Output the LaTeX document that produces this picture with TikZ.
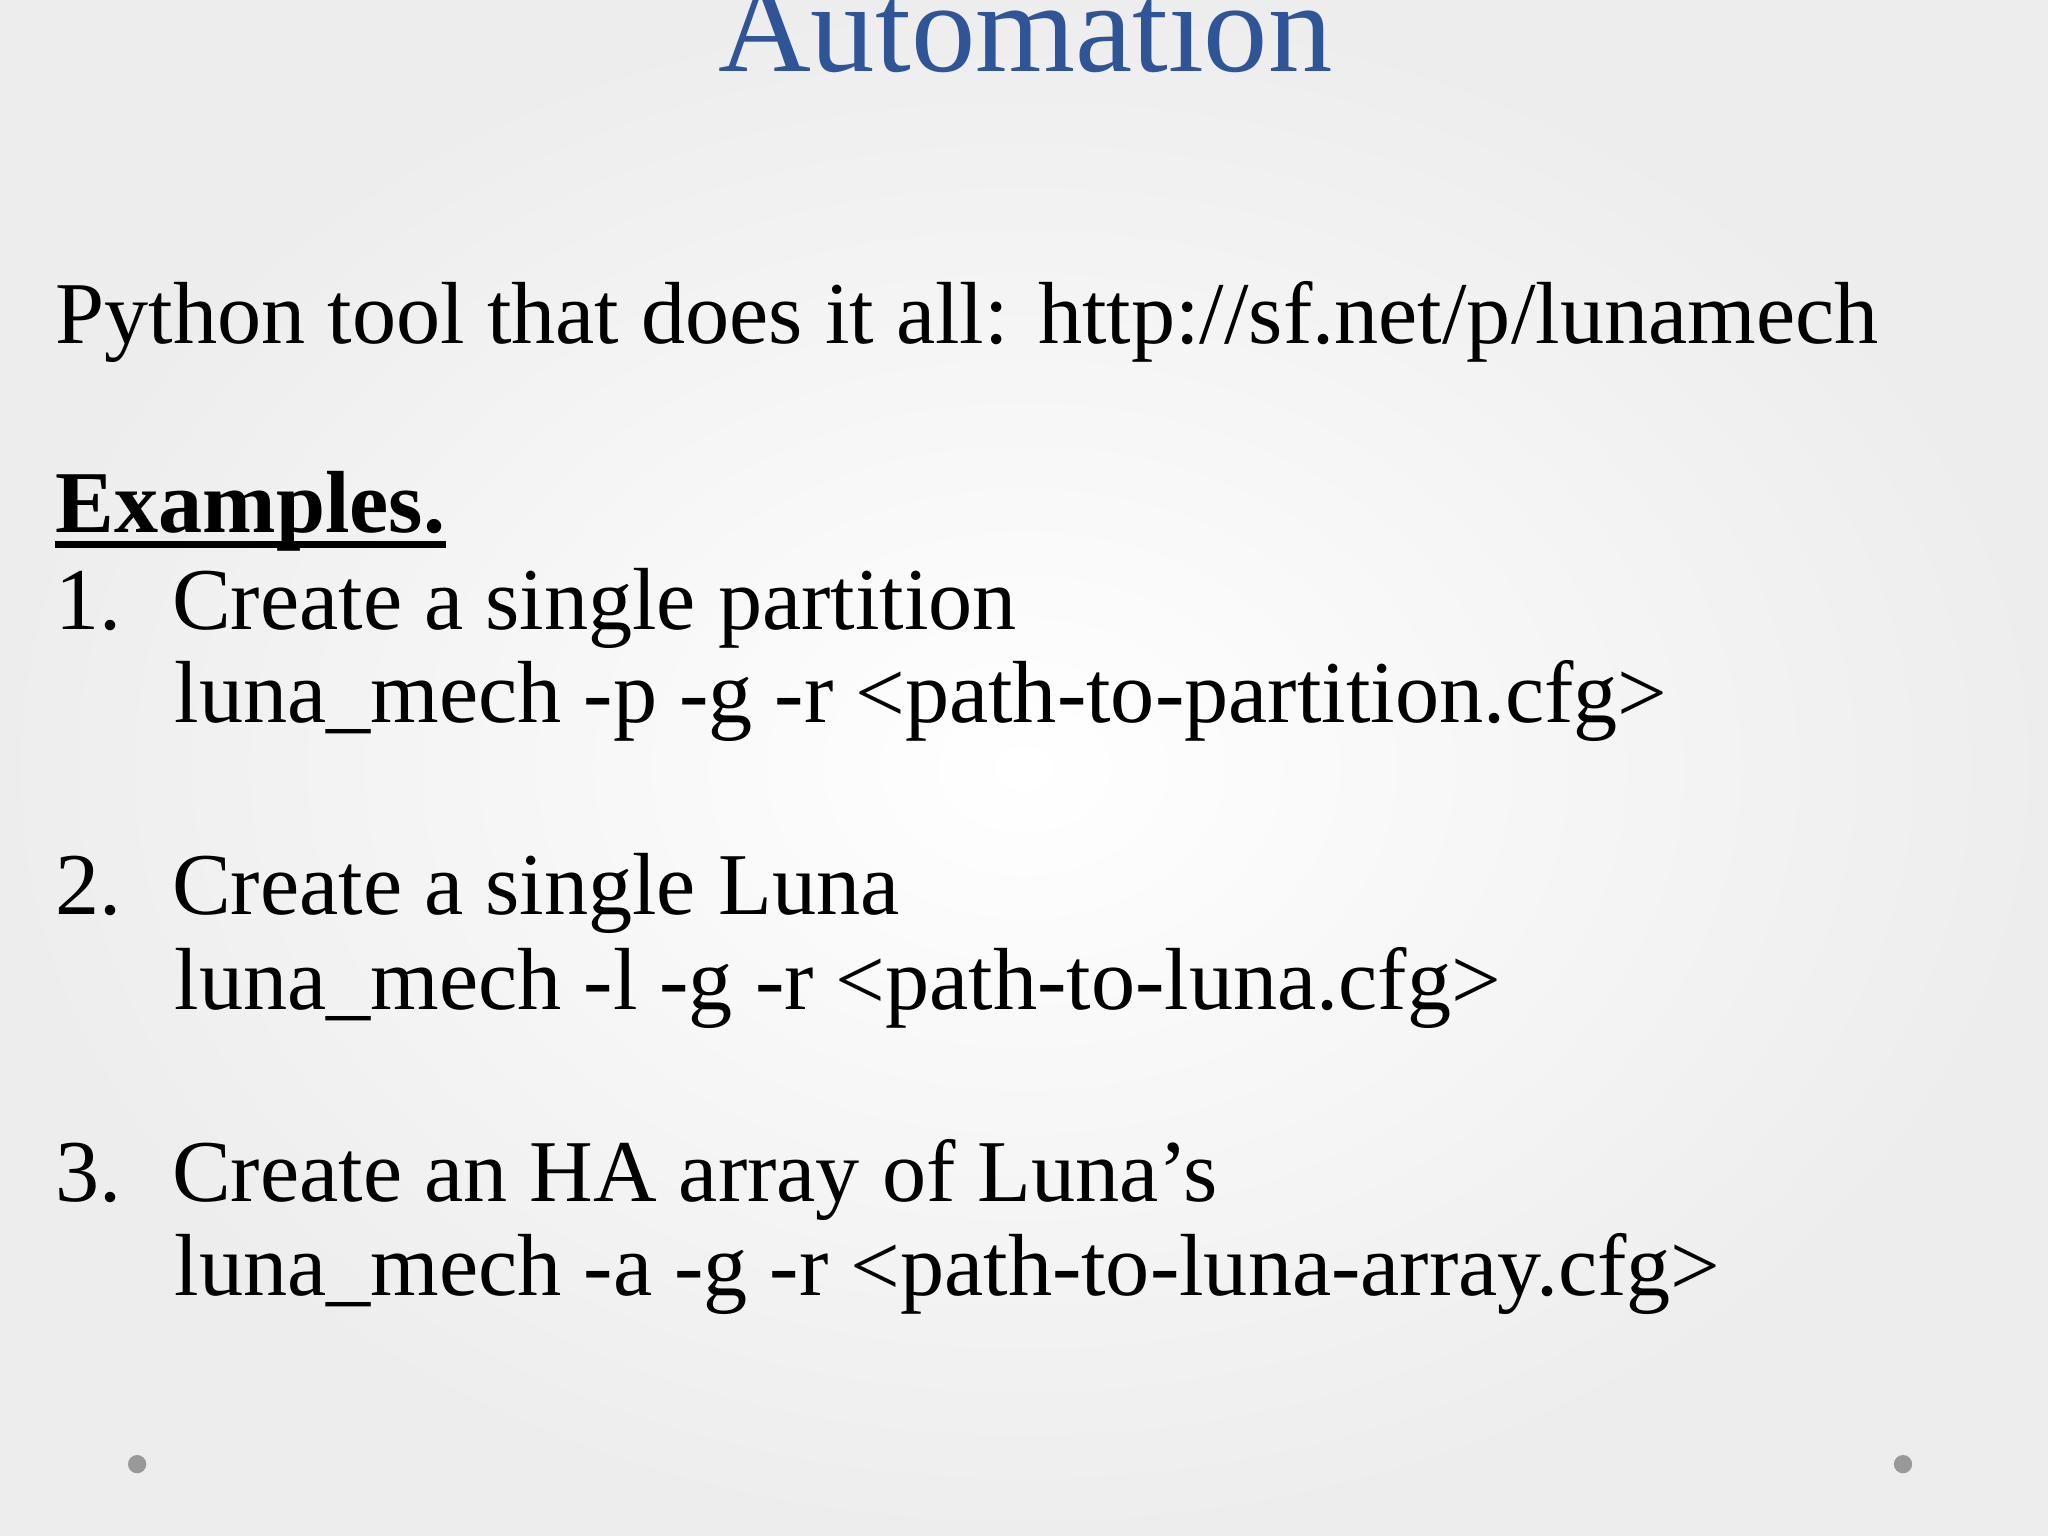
\documentclass[tikz,border=0pt]{standalone}
\usepackage{fontspec}
\setmainfont{Liberation Serif}
\definecolor{ttl}{HTML}{2F5597}
\begin{document}
\begin{tikzpicture}[x=0.01cm,y=-0.01cm,
 body/.style={anchor=base west,inner sep=0pt,font=\fontsize{19.2}{22}\selectfont},
 dot/.style={circle,fill=gray!80,inner sep=0pt,minimum size=0.14cm}]
\useasboundingbox (0,0) rectangle (1568,1176);
\shade[inner color=white,outer color=gray!14] (0,0) rectangle (1568,1176);
\node[anchor=base,inner sep=0pt,text=ttl,font=\fontsize{28}{32}\selectfont] (title) at (785,55) {Automation};
\node[body] (py) at (42,263) {Python tool that does it all: http://sf.net/p/lunamech};
\node[body,font=\fontsize{19.2}{22}\bfseries] (ex) at (42,408) {Examples.};
\draw[line width=1.6pt] (ex.base west)++(0,9) coordinate (u1) -- (ex.base east|-u1);
\node[body] (n1) at (42,482) {1.};
\node[body] (c1) at (131,482) {Create a single partition};
\node[body] (l1) at (133,553) {luna\_mech -p -g -r <path-to-partition.cfg>};
\node[body] (n2) at (42,700) {2.};
\node[body] (c2) at (131,700) {Create a single Luna};
\node[body] (l2) at (133,773) {luna\_mech -l -g -r <path-to-luna.cfg>};
\node[body] (n3) at (42,920) {3.};
\node[body] (c3) at (131,920) {Create an HA array of Luna’s};
\node[body] (l3) at (133,992) {luna\_mech -a -g -r <path-to-luna-array.cfg>};
\node[dot] (d1) at (105,1121) {};
\node[dot] (d2) at (1457,1121) {};
\end{tikzpicture}
\end{document}
